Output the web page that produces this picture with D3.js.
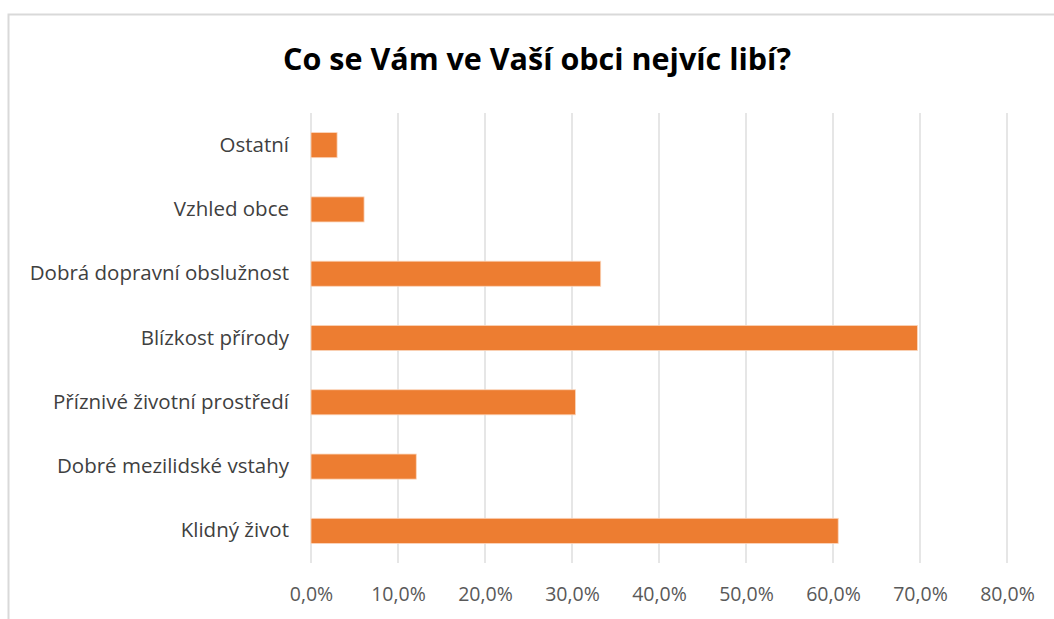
<!DOCTYPE html>
<html>
<head>
<meta charset="utf-8">
<script src="https://cdn.jsdelivr.net/npm/d3@7"></script>
<style>
  body { margin: 0; background: #fff; }
  text { font-family: "Open Sans", sans-serif; }
</style>
</head>
<body>
<script>
// data
var categories = ["Ostatní", "Vzhled obce", "Dobrá dopravní obslužnost", "Blízkost přírody",
  "Příznivé životní prostředí", "Dobré mezilidské vstahy", "Klidný život"];
var values = [3.0, 6.1, 33.3, 69.7, 30.4, 12.1, 60.6];
var ticks = [0, 10, 20, 30, 40, 50, 60, 70, 80];
var title = "Co se Vám ve Vaší obci nejvíc libí?";

var width = 1054, height = 619;
var plotLeft = 311, plotRight = 1007, plotTop = 113, plotBottom = 563;

var svg = d3.select("body").append("svg")
    .attr("width", width)
    .attr("height", height);

// chart border (only top/left visible in frame)
svg.append("rect")
    .attr("x", 8.5).attr("y", 14.5)
    .attr("width", 1100).attr("height", 700)
    .attr("fill", "none")
    .attr("stroke", "#d9d9d9")
    .attr("stroke-width", 2);

var x = d3.scaleLinear().domain([0, 80]).range([plotLeft, plotRight]);
var y = d3.scaleBand().domain(categories).range([plotTop, plotBottom]).paddingInner(0.61).paddingOuter(0.305);

// gridlines
svg.selectAll(".grid")
    .data(ticks)
  .enter().append("line")
    .attr("x1", function(d) { return x(d); })
    .attr("x2", function(d) { return x(d); })
    .attr("y1", plotTop).attr("y2", plotBottom)
    .attr("stroke", "#d9d9d9")
    .attr("stroke-width", 1.3);

// bars
svg.selectAll(".bar")
    .data(values)
  .enter().append("rect")
    .attr("x", x(0))
    .attr("y", function(d, i) { return y(categories[i]); })
    .attr("width", function(d) { return x(d) - x(0); })
    .attr("height", y.bandwidth())
    .attr("fill", "#ed7d31")
    .attr("stroke", "#fbd5bb")
    .attr("stroke-width", 0.8);

// x axis labels
var xAxis = d3.axisBottom(x).tickValues(ticks)
    .tickFormat(function(d) { return d3.format(".1f")(d).replace(".", ",") + "%"; })
    .tickSize(0).tickPadding(0);
var gx = svg.append("g")
    .attr("transform", "translate(0," + 587.5 + ")")
    .call(xAxis);
gx.select(".domain").remove();
gx.selectAll("text")
    .attr("fill", "#595959")
    .style("font-size", "19.5px")
    .style("font-family", "'Open Sans', sans-serif");

// y axis labels
var yAxis = d3.axisLeft(y).tickSize(0).tickPadding(0);
var gy = svg.append("g")
    .attr("transform", "translate(289,0)")
    .call(yAxis);
gy.select(".domain").remove();
gy.selectAll("text")
    .attr("fill", "#404040")
    .style("font-size", "20.5px")
    .style("font-family", "'Open Sans', sans-serif");

// title
svg.append("text")
    .attr("x", 537)
    .attr("y", 70)
    .attr("text-anchor", "middle")
    .attr("fill", "#000")
    .style("font-size", "30.5px")
    .style("font-weight", "bold")
    .text(title);
</script>
</body>
</html>
